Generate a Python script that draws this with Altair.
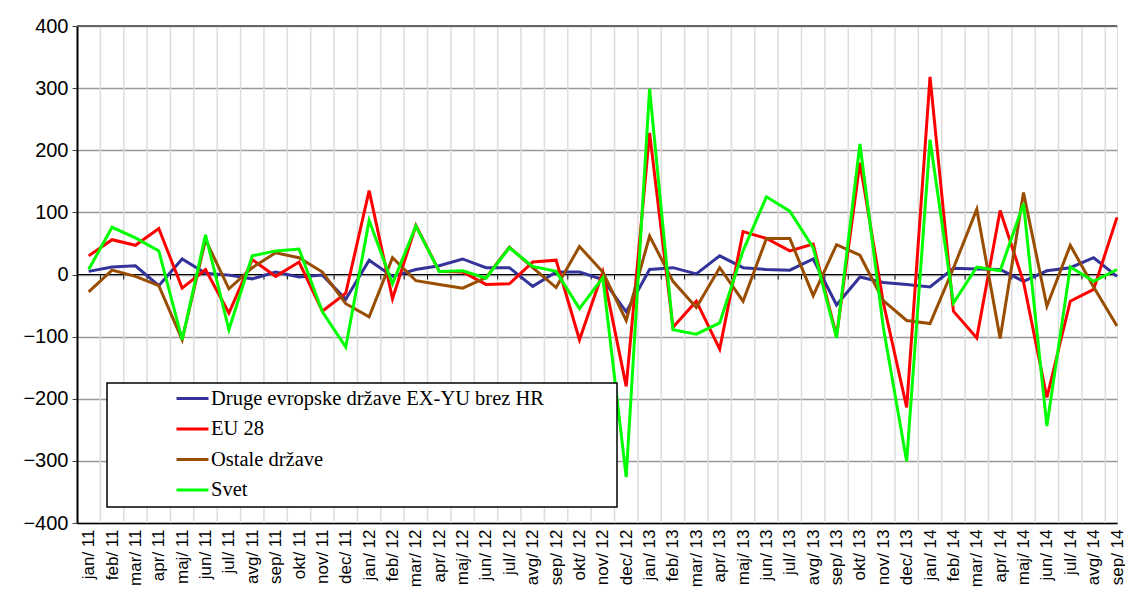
import json
import altair as alt
import pandas as pd

categories = [
    "jan/ 11", "feb/ 11", "mar/ 11", "apr/ 11", "maj/ 11", "jun/ 11", "jul/ 11", "avg/ 11", "sep/ 11", "okt/ 11", "nov/ 11", "dec/ 11",
    "jan/ 12", "feb/ 12", "mar/ 12", "apr/ 12", "maj/ 12", "jun/ 12", "jul/ 12", "avg/ 12", "sep/ 12", "okt/ 12", "nov/ 12", "dec/ 12",
    "jan/ 13", "feb/ 13", "mar/ 13", "apr/ 13", "maj/ 13", "jun/ 13", "jul/ 13", "avg/ 13", "sep/ 13", "okt/ 13", "nov/ 13", "dec/ 13",
    "jan/ 14", "feb/ 14", "mar/ 14", "apr/ 14", "maj/ 14", "jun/ 14", "jul/ 14", "avg/ 14", "sep/ 14",
]

series_names = ["Druge evropske države EX-YU brez HR", "EU 28", "Ostale države", "Svet"]
series_colors = ["#333399", "#FF0000", "#994D00", "#00FF00"]

druge = [5, 12, 14, -18, 25, 2, -1, -7, 4, -4, -1, -40,
         23, -3, 8, 14, 25, 11, 11, -19, 4, 4, -8, -60,
         8, 11, 1, 30, 11, 8, 7, 25, -49, -4, -13, -16,
         -20, 10, 9, 8, -11, 6, 11, 27, -3]
eu28 = [30, 56, 47, 74, -22, 8, -62, 24, -3, 20, -59, -30,
        135, -39, 79, 5, 4, -16, -15, 20, 23, -105, 4, -180,
        228, -85, -43, -120, 69, 58, 38, 49, -99, 180, -45, -214,
        318, -59, -102, 103, -12, -198, -43, -24, 92]
ostale = [-28, 7, -3, -18, -105, 56, -23, 11, 35, 27, 4, -47,
          -68, 27, -10, -16, -22, -5, 44, 11, -21, 45, 4, -74,
          62, -11, -53, 11, -43, 58, 58, -34, 48, 31, -42, -74,
          -79, 10, 105, -103, 132, -51, 47, -20, -83]
svet = [8, 76, 59, 38, -105, 64, -89, 30, 38, 41, -60, -117,
        87, -15, 78, 5, 6, -6, 43, 13, 5, -55, -5, -326,
        299, -89, -96, -78, 38, 125, 102, 43, -102, 210, -85, -301,
        217, -46, 12, 6, 114, -244, 12, -11, 8]

y_ticks = [-400, -300, -200, -100, 0, 100, 200, 300, 400]

rows = []
for name, vals in zip(series_names, [druge, eu28, ostale, svet]):
    for i, v in enumerate(vals):
        rows.append({"idx": i, "series": name, "value": v})
df = pd.DataFrame(rows)

boundaries = pd.DataFrame({"b": [i + 0.5 for i in range(len(categories) - 1)]})

W, H = 1040, 497
x_scale = alt.Scale(domain=[-0.5, len(categories) - 1], nice=False, zero=False)
y_scale = alt.Scale(domain=[-400, 400], nice=False, zero=False)

label_expr = json.dumps(categories, ensure_ascii=False) + "[datum.value]"
x_axis = alt.Axis(
    values=list(range(len(categories))), labelExpr=label_expr, labelAngle=270,
    title=None, grid=False, ticks=False, labelFont="Liberation Sans", labelFontSize=17,
    labelColor="black", labelPadding=6, domainColor="black", domainWidth=1.5,
)
y_axis = alt.Axis(
    values=y_ticks, title=None, grid=True, gridColor="#999999", gridWidth=1.5,
    labelFont="Liberation Sans", labelFontSize=20, labelColor="black", labelPadding=4,
    tickSize=5, tickColor="#444444", domainColor="black", domainWidth=2,
    minExtent=69, maxExtent=69,
)

vgrid = alt.Chart(boundaries).mark_rule(color="#dcdcdc", strokeWidth=1.5).encode(
    x=alt.X("b:Q", scale=x_scale, axis=x_axis)
)

one = pd.DataFrame({"k": [0]})
zero_line = alt.Chart(one).mark_rule(color="black", strokeWidth=1).encode(
    y=alt.datum(0)
)
top_line = alt.Chart(one).mark_rule(color="#666666", strokeWidth=2).encode(
    y=alt.datum(400)
)
zero_ticks = alt.Chart(boundaries).mark_rule(color="black", strokeWidth=1).encode(
    x=alt.X("b:Q", scale=x_scale, axis=x_axis), y=alt.datum(0), y2=alt.datum(-8)
)

lines = alt.Chart(df).mark_line(strokeWidth=3).encode(
    x=alt.X("idx:Q", scale=x_scale, axis=x_axis),
    y=alt.Y("value:Q", scale=y_scale, axis=y_axis),
    color=alt.Color(
        "series:N",
        scale=alt.Scale(domain=series_names, range=series_colors),
        sort=series_names,
        legend=alt.Legend(
            title=None, orient="none", legendX=104, legendY=361,
            symbolType="M-1.6,0H1.6", symbolSize=400, symbolStrokeWidth=3,
            labelFont="Liberation Serif", labelFontSize=20.5, labelColor="black",
            rowPadding=8.5, labelOffset=7, padding=0, labelLimit=700,
        ),
    ),
    order=alt.Order("idx:Q"),
)

legend_box = alt.Chart(one).mark_rect(fill="white", stroke="black", strokeWidth=1.5).encode(
    x=alt.value(30), x2=alt.value(540), y=alt.value(357), y2=alt.value(481)
)

chart = alt.layer(vgrid, zero_line, zero_ticks, top_line, lines, legend_box).properties(
    width=W, height=H, padding={"left": 0, "top": 8, "right": 0, "bottom": 0},
).configure_view(stroke=None).configure(background="white")

chart.save("out.html", embed_options={"renderer": "svg", "actions": False})
